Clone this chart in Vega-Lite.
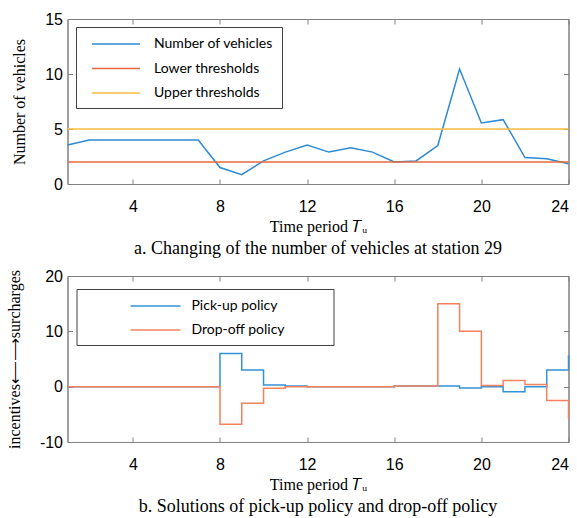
{
  "$schema": "https://vega.github.io/schema/vega-lite/v6.json",
  "padding": {"left": 5.5, "top": 10, "right": 5, "bottom": 2},
  "background": "white",
  "datasets": {
    "vehicles": [
      {"t": 1, "series": "Number of vehicles", "value": 3.55},
      {"t": 2, "series": "Number of vehicles", "value": 4.0},
      {"t": 3, "series": "Number of vehicles", "value": 4.0},
      {"t": 4, "series": "Number of vehicles", "value": 4.0},
      {"t": 5, "series": "Number of vehicles", "value": 4.0},
      {"t": 6, "series": "Number of vehicles", "value": 4.0},
      {"t": 7, "series": "Number of vehicles", "value": 4.0},
      {"t": 8, "series": "Number of vehicles", "value": 1.5},
      {"t": 9, "series": "Number of vehicles", "value": 0.85},
      {"t": 10, "series": "Number of vehicles", "value": 2.1},
      {"t": 11, "series": "Number of vehicles", "value": 2.9},
      {"t": 12, "series": "Number of vehicles", "value": 3.55},
      {"t": 13, "series": "Number of vehicles", "value": 2.9},
      {"t": 14, "series": "Number of vehicles", "value": 3.3},
      {"t": 15, "series": "Number of vehicles", "value": 2.9},
      {"t": 16, "series": "Number of vehicles", "value": 2.0},
      {"t": 17, "series": "Number of vehicles", "value": 2.1},
      {"t": 18, "series": "Number of vehicles", "value": 3.5},
      {"t": 19, "series": "Number of vehicles", "value": 10.45},
      {"t": 20, "series": "Number of vehicles", "value": 5.55},
      {"t": 21, "series": "Number of vehicles", "value": 5.85},
      {"t": 22, "series": "Number of vehicles", "value": 2.4},
      {"t": 23, "series": "Number of vehicles", "value": 2.3},
      {"t": 24, "series": "Number of vehicles", "value": 1.85},
      {"t": 1, "series": "Lower thresholds", "value": 2},
      {"t": 24, "series": "Lower thresholds", "value": 2},
      {"t": 1, "series": "Upper thresholds", "value": 5},
      {"t": 24, "series": "Upper thresholds", "value": 5}
    ],
    "policy": [
      {"t": 1, "series": "Pick-up policy", "value": 0},
      {"t": 2, "series": "Pick-up policy", "value": 0},
      {"t": 3, "series": "Pick-up policy", "value": 0},
      {"t": 4, "series": "Pick-up policy", "value": 0},
      {"t": 5, "series": "Pick-up policy", "value": 0},
      {"t": 6, "series": "Pick-up policy", "value": 0},
      {"t": 7, "series": "Pick-up policy", "value": 0},
      {"t": 8, "series": "Pick-up policy", "value": 6},
      {"t": 9, "series": "Pick-up policy", "value": 3},
      {"t": 10, "series": "Pick-up policy", "value": 0.3},
      {"t": 11, "series": "Pick-up policy", "value": 0.1},
      {"t": 12, "series": "Pick-up policy", "value": 0},
      {"t": 13, "series": "Pick-up policy", "value": 0},
      {"t": 14, "series": "Pick-up policy", "value": 0},
      {"t": 15, "series": "Pick-up policy", "value": 0},
      {"t": 16, "series": "Pick-up policy", "value": 0.1},
      {"t": 17, "series": "Pick-up policy", "value": 0.1},
      {"t": 18, "series": "Pick-up policy", "value": 0.1},
      {"t": 19, "series": "Pick-up policy", "value": -0.25},
      {"t": 20, "series": "Pick-up policy", "value": 0},
      {"t": 21, "series": "Pick-up policy", "value": -0.9},
      {"t": 22, "series": "Pick-up policy", "value": 0},
      {"t": 23, "series": "Pick-up policy", "value": 3},
      {"t": 24, "series": "Pick-up policy", "value": 5.7},
      {"t": 1, "series": "Drop-off policy", "value": 0},
      {"t": 2, "series": "Drop-off policy", "value": 0},
      {"t": 3, "series": "Drop-off policy", "value": 0},
      {"t": 4, "series": "Drop-off policy", "value": 0},
      {"t": 5, "series": "Drop-off policy", "value": 0},
      {"t": 6, "series": "Drop-off policy", "value": 0},
      {"t": 7, "series": "Drop-off policy", "value": 0},
      {"t": 8, "series": "Drop-off policy", "value": -6.8},
      {"t": 9, "series": "Drop-off policy", "value": -3},
      {"t": 10, "series": "Drop-off policy", "value": -0.3},
      {"t": 11, "series": "Drop-off policy", "value": 0},
      {"t": 12, "series": "Drop-off policy", "value": 0},
      {"t": 13, "series": "Drop-off policy", "value": 0},
      {"t": 14, "series": "Drop-off policy", "value": 0},
      {"t": 15, "series": "Drop-off policy", "value": 0},
      {"t": 16, "series": "Drop-off policy", "value": 0.1},
      {"t": 17, "series": "Drop-off policy", "value": 0.1},
      {"t": 18, "series": "Drop-off policy", "value": 15},
      {"t": 19, "series": "Drop-off policy", "value": 10},
      {"t": 20, "series": "Drop-off policy", "value": 0.2},
      {"t": 21, "series": "Drop-off policy", "value": 1.1},
      {"t": 22, "series": "Drop-off policy", "value": 0.4},
      {"t": 23, "series": "Drop-off policy", "value": -2.5},
      {"t": 24, "series": "Drop-off policy", "value": -5.9}
    ]
  },
  "vconcat": [
    {
      "width": 501,
      "height": 165,
      "data": {"name": "vehicles"},
      "title": {
        "text": "a. Changing of the number of vehicles at station 29",
        "orient": "bottom",
        "font": "Liberation Serif",
        "fontSize": 18,
        "fontWeight": "normal",
        "color": "#000000",
        "offset": 6
      },
      "layer": [
        {
          "transform": [{"filter": "datum.series === 'Number of vehicles'"}],
          "mark": {"type": "line", "strokeWidth": 1.5},
          "encoding": {
            "x": {
              "field": "t", "type": "quantitative",
              "scale": {"domain": [1, 24], "nice": false, "zero": false},
              "axis": {"orient": "bottom", "values": [4, 8, 12, 16, 20, 24], "title": "Time period 𝑇ᵤ"}
            },
            "y": {
              "field": "value", "type": "quantitative",
              "scale": {"domain": [0, 15], "nice": false},
              "axis": {"orient": "left", "values": [0, 5, 10, 15], "title": "Number of vehicles"}
            },
            "color": {
              "field": "series", "type": "nominal",
              "scale": {
                "domain": ["Number of vehicles", "Lower thresholds", "Upper thresholds"],
                "range": ["#2e8ad3", "#e8693d", "#fbbd40"]
              },
              "legend": {
                "orient": "none", "legendX": 8.5, "legendY": 8,
                "title": null,
                "symbolType": "M-3,0H3", "symbolSize": 256, "symbolStrokeWidth": 1.5,
                "symbolOffset": 23, "labelOffset": 29,
                "labelFont": "Lato", "labelFontSize": 14, "labelColor": "#000000",
                "padding": 8, "rowPadding": 8.5,
                "strokeColor": "#404040", "fillColor": "#ffffff"
              }
            }
          }
        },
        {
          "transform": [{"filter": "datum.series !== 'Number of vehicles'"}],
          "mark": {"type": "line", "strokeWidth": 1.5},
          "encoding": {
            "x": {
              "field": "t", "type": "quantitative",
              "scale": {"domain": [1, 24], "nice": false, "zero": false},
              "axis": {"orient": "top", "values": [4, 8, 12, 16, 20, 24], "labels": false, "title": null}
            },
            "y": {
              "field": "value", "type": "quantitative",
              "scale": {"domain": [0, 15], "nice": false},
              "axis": {"orient": "right", "values": [0, 5, 10, 15], "labels": false, "title": null}
            },
            "color": {"field": "series", "type": "nominal"}
          }
        }
      ],
      "resolve": {"axis": {"x": "independent", "y": "independent"}}
    },
    {
      "width": 501,
      "height": 166,
      "data": {"name": "policy"},
      "title": {
        "text": "b. Solutions of pick-up policy and drop-off policy",
        "orient": "bottom",
        "font": "Liberation Serif",
        "fontSize": 18,
        "fontWeight": "normal",
        "color": "#000000",
        "offset": 6
      },
      "layer": [
        {
          "transform": [{"filter": "datum.series === 'Pick-up policy'"}],
          "mark": {"type": "line", "strokeWidth": 1.5, "interpolate": "step-after"},
          "encoding": {
            "x": {
              "field": "t", "type": "quantitative",
              "scale": {"domain": [1, 24], "nice": false, "zero": false},
              "axis": {"orient": "bottom", "values": [4, 8, 12, 16, 20, 24], "title": "Time period 𝑇ᵤ"}
            },
            "y": {
              "field": "value", "type": "quantitative",
              "scale": {"domain": [-10, 20], "nice": false},
              "axis": {"orient": "left", "values": [-10, 0, 10, 20], "title": "incentives⟵⟶surcharges"}
            },
            "color": {
              "field": "series", "type": "nominal",
              "scale": {
                "domain": ["Pick-up policy", "Drop-off policy"],
                "range": ["#3392d8", "#f5825c"]
              },
              "legend": {
                "orient": "none", "legendX": 9, "legendY": 13,
                "title": null,
                "symbolType": "M-3.125,0H3.125", "symbolSize": 256, "symbolStrokeWidth": 1.5,
                "symbolOffset": 62, "labelOffset": 27,
                "labelFont": "Lato", "labelFontSize": 14, "labelColor": "#000000",
                "labelExpr": "datum.label + '\u2800\u2800\u2800\u2800'",
                "padding": 8, "rowPadding": 8,
                "strokeColor": "#404040", "fillColor": "#ffffff"
              }
            }
          }
        },
        {
          "transform": [{"filter": "datum.series === 'Drop-off policy'"}],
          "mark": {"type": "line", "strokeWidth": 1.5, "interpolate": "step-after"},
          "encoding": {
            "x": {
              "field": "t", "type": "quantitative",
              "scale": {"domain": [1, 24], "nice": false, "zero": false},
              "axis": {"orient": "top", "values": [4, 8, 12, 16, 20, 24], "labels": false, "title": null}
            },
            "y": {
              "field": "value", "type": "quantitative",
              "scale": {"domain": [-10, 20], "nice": false},
              "axis": {"orient": "right", "values": [-10, 0, 10, 20], "labels": false, "title": null}
            },
            "color": {"field": "series", "type": "nominal"}
          }
        }
      ],
      "resolve": {"axis": {"x": "independent", "y": "independent"}}
    }
  ],
  "resolve": {"scale": {"color": "independent"}, "legend": {"color": "independent"}},
  "spacing": 8,
  "config": {
    "view": {"stroke": "#808080", "strokeWidth": 1},
    "axis": {
      "grid": false,
      "domainColor": "#808080",
      "tickColor": "#808080",
      "tickSize": -5,
      "labelFont": "Liberation Sans",
      "labelFontSize": 16,
      "labelColor": "#000000",
      "labelPadding": 10,
      "labelExpr": "'' + datum.value",
      "titleFont": "Liberation Serif",
      "titleFontSize": 16,
      "titleFontWeight": "normal",
      "titleColor": "#000000"
    },
    "axisX": {"titlePadding": 4, "labelPadding": 19},
    "axisY": {"titlePadding": 17}
  }
}
